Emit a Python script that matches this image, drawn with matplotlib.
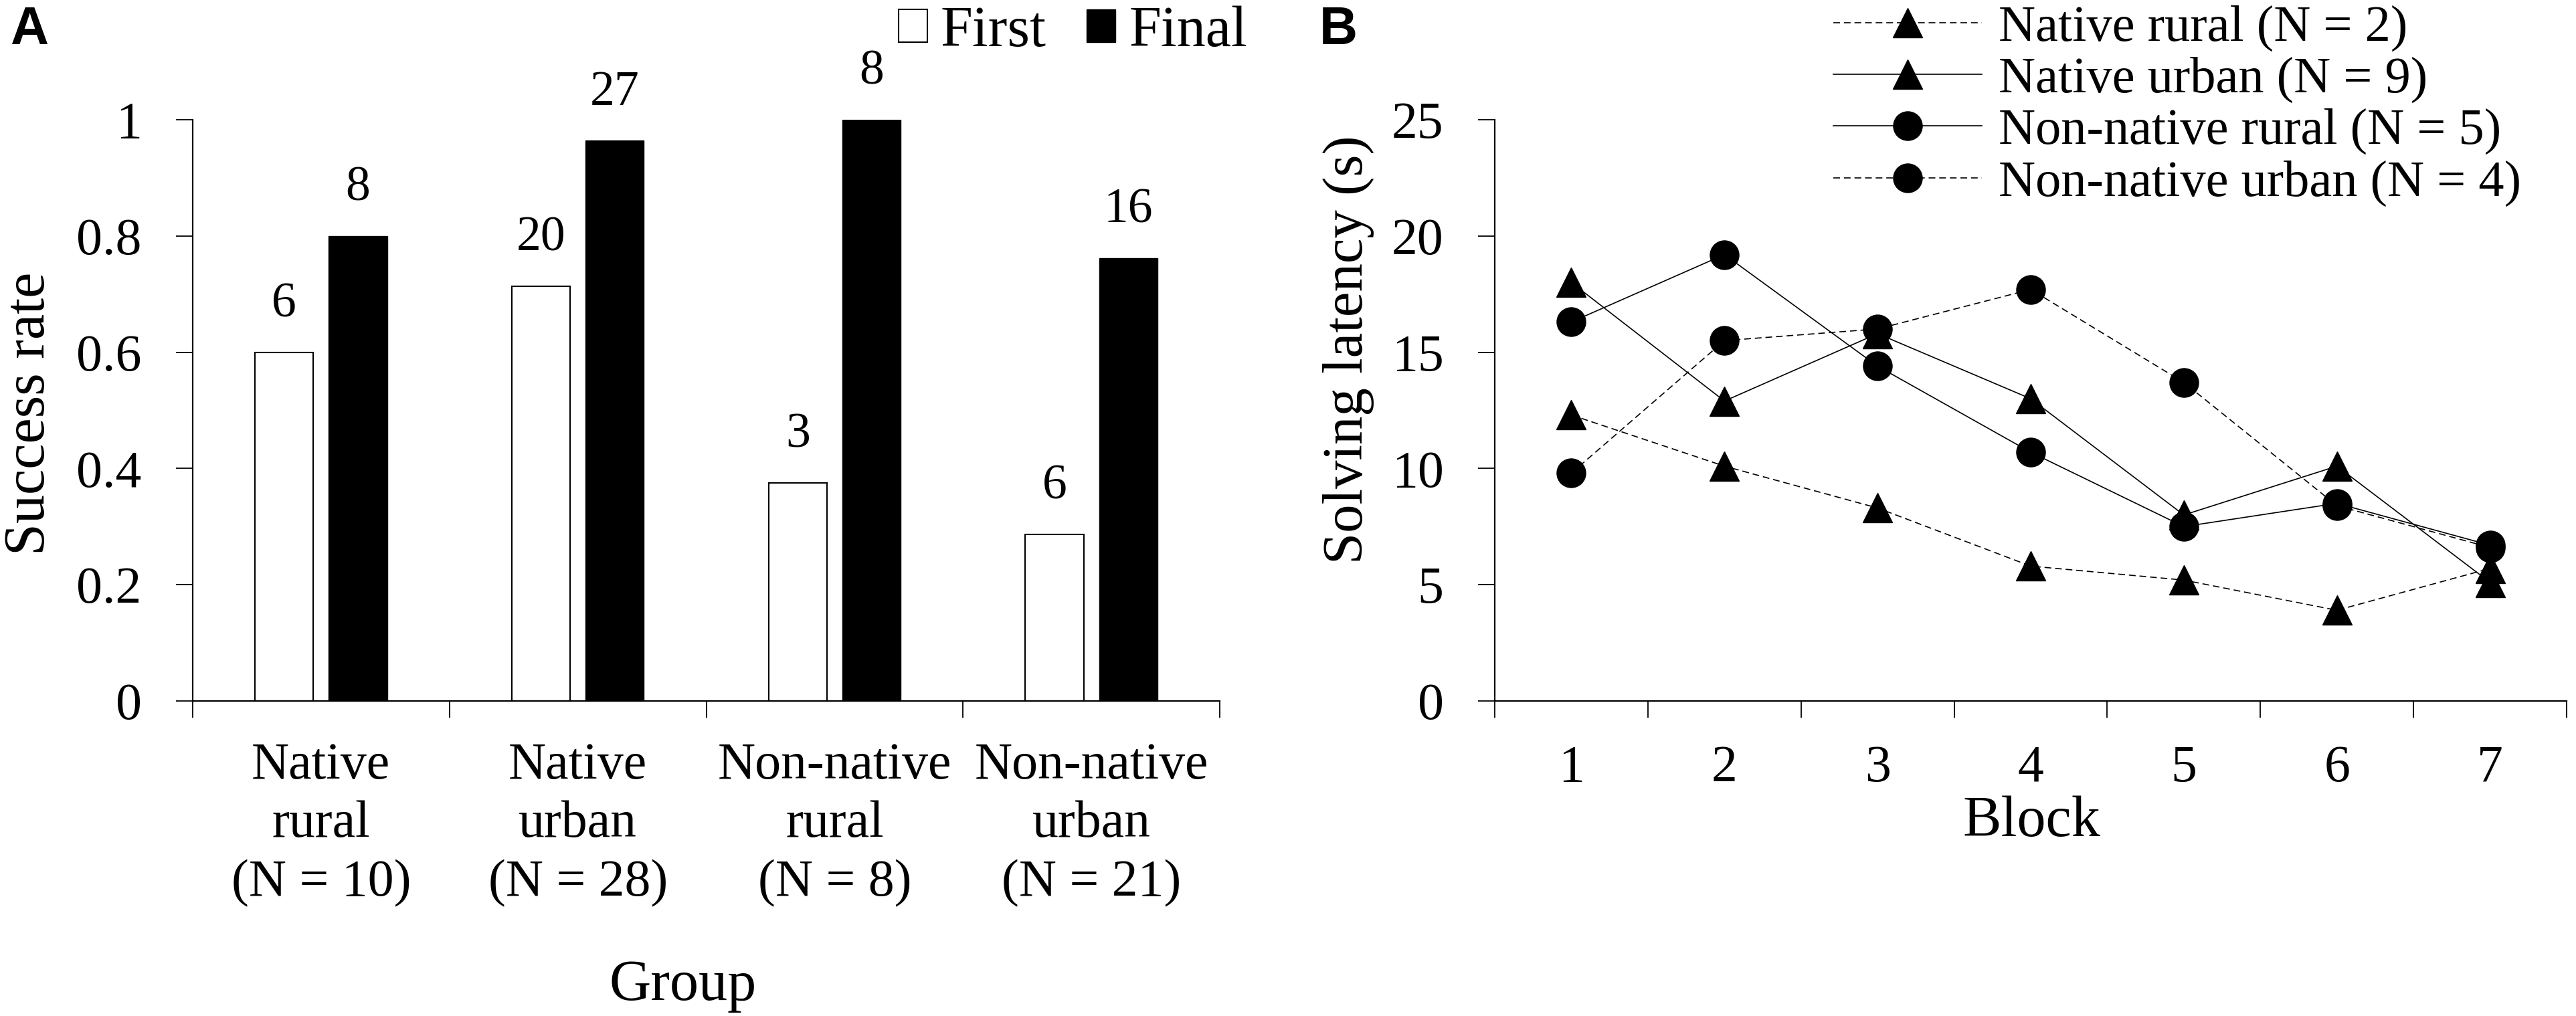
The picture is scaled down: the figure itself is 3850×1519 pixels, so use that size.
import matplotlib
matplotlib.use("Agg")
import matplotlib.pyplot as plt
from matplotlib.patches import Patch
from matplotlib.lines import Line2D

plt.rcParams['font.family'] = ['Liberation Serif', 'DejaVu Serif']

# panel A data
groups = ["Native\nrural\n(N = 10)", "Native\nurban\n(N = 28)",
          "Non-native\nrural\n(N = 8)", "Non-native\nurban\n(N = 21)"]
first_rate = [0.6, 0.714, 0.375, 0.286]
final_rate = [0.8, 0.964, 1.0, 0.762]
first_count = [6, 20, 3, 6]
final_count = [8, 27, 8, 16]

# panel B data
blocks = [1, 2, 3, 4, 5, 6, 7]
native_rural = [12.3, 10.1, 8.3, 5.8, 5.2, 3.9, 5.7]
native_urban = [18.0, 12.9, 15.8, 13.0, 8.0, 10.1, 5.1]
nonnative_rural = [16.3, 19.2, 14.4, 10.7, 7.5, 8.5, 6.7]
nonnative_urban = [9.8, 15.5, 16.0, 17.7, 13.7, 8.4, 6.6]
series_names = ["Native rural (N = 2)", "Native urban (N = 9)",
                "Non-native rural (N = 5)", "Non-native urban (N = 4)"]

W, H = 3850, 1519
fig = plt.figure(figsize=(W / 100, H / 100), dpi=100)

def frac(x0, y0, x1, y1):
    # pixel box (top-left origin) -> figure fraction rect
    return [x0 / W, 1 - y1 / H, (x1 - x0) / W, (y1 - y0) / H]

axA = fig.add_axes(frac(288, 179, 1823, 1048))
axB = fig.add_axes(frac(2234, 179, 3836, 1048))

TICK = 56
LAB = 62

def style_axis(ax, xpad):
    for s in ["top", "right"]:
        ax.spines[s].set_visible(False)
    for s in ["left", "bottom"]:
        ax.spines[s].set_linewidth(1.6)
    ax.tick_params(axis="y", which="major", direction="out", length=18, width=1.3,
                   pad=37, labelsize=TICK)
    ax.tick_params(axis="x", which="major", length=0, pad=xpad, labelsize=TICK)
    ax.tick_params(axis="x", which="minor", direction="out", length=18, width=1.3)

# ---- panel A ----
x = list(range(len(groups)))
bw = 0.227
off = 0.1436
b1 = axA.bar([i - off for i in x], first_rate, width=bw, color="white",
             edgecolor="black", linewidth=1.5, label="First")
b2 = axA.bar([i + off for i in x], final_rate, width=bw, color="black",
             edgecolor="black", linewidth=1.0, label="Final")
for bars, counts in [(b1, first_count), (b2, final_count)]:
    for r, c in zip(bars, counts):
        axA.annotate(str(c), (r.get_x() + r.get_width() / 2, r.get_height()),
                     xytext=(0, 27), textcoords="offset points",
                     ha="center", va="bottom", fontsize=53)
axA.set_xlim(-0.5, 3.5)
axA.set_ylim(0, 1)
axA.set_yticks([0, 0.2, 0.4, 0.6, 0.8, 1.0])
axA.set_yticklabels(["0", "0.2", "0.4", "0.6", "0.8", "1"])
axA.set_xticks(x)
axA.set_xticklabels(groups, linespacing=1.3)
axA.set_xticks([-0.5, 0.5, 1.5, 2.5, 3.5], minor=True)
style_axis(axA, 44)
axA.set_ylabel("Success rate", fontsize=LAB)
axA.yaxis.set_label_coords(-0.158, 0.495)
axA.yaxis.label.set_va("center")
axA.set_xlabel("Group", fontsize=LAB)
axA.xaxis.set_label_coords(0.4775, -0.49)
axA.xaxis.label.set_va("center")

handlesA = [Patch(facecolor="white", edgecolor="black", linewidth=1.5),
            Patch(facecolor="black", edgecolor="black")]
fig.legend(handlesA, ["First", "Final"], loc="upper right",
           bbox_to_anchor=(1864 / W, 1 - 9 / H), ncol=2, frameon=False,
           fontsize=62, handlelength=0.5, handleheight=0.5,
           handletextpad=0.23, columnspacing=0.7, borderpad=0, borderaxespad=0)

# ---- panel B ----
lw = 1.2
dash = (0, (6, 3.5))
axB.plot(blocks, native_rural, linestyle=dash, color="black", linewidth=lw,
         marker="^", markersize=31)
axB.plot(blocks, native_urban, linestyle="-", color="black", linewidth=lw,
         marker="^", markersize=31)
axB.plot(blocks, nonnative_rural, linestyle="-", color="black", linewidth=lw,
         marker="o", markersize=31)
axB.plot(blocks, nonnative_urban, linestyle=dash, color="black", linewidth=lw,
         marker="o", markersize=31)
axB.set_xlim(0.5, 7.5)
axB.set_ylim(0, 25)
axB.set_yticks([0, 5, 10, 15, 20, 25])
axB.set_xticks(blocks)
axB.set_xticks([b - 0.5 for b in blocks] + [7.5], minor=True)
style_axis(axB, 47)
axB.set_ylabel("Solving latency (s)", fontsize=61)
axB.yaxis.set_label_coords(-0.1367, 0.605)
axB.yaxis.label.set_va("center")
axB.set_xlabel("Block", fontsize=LAB)
axB.xaxis.set_label_coords(0.501, -0.208)
axB.xaxis.label.set_va("center")

handlesB = [Line2D([], [], color="black", linewidth=lw, linestyle=dash, marker="^", markersize=31),
            Line2D([], [], color="black", linewidth=lw, linestyle="-", marker="^", markersize=31),
            Line2D([], [], color="black", linewidth=lw, linestyle="-", marker="o", markersize=31),
            Line2D([], [], color="black", linewidth=lw, linestyle=dash, marker="o", markersize=31)]
fig.legend(handlesB, series_names, loc="upper left",
           bbox_to_anchor=(2740 / W, 1 - 7 / H), frameon=False, fontsize=55,
           numpoints=1, handlelength=2.9, handletextpad=0.33, labelspacing=0.1,
           borderpad=0, borderaxespad=0)

# panel letters
fig.text(15 / W, 1 - 8 / H, "A", fontsize=57, fontweight="bold",
         family="Liberation Sans", ha="left", va="top")
fig.text(1972 / W, 1 - 8 / H, "B", fontsize=57, fontweight="bold",
         family="Liberation Sans", ha="left", va="top")

fig.savefig("out.png", dpi=100)
